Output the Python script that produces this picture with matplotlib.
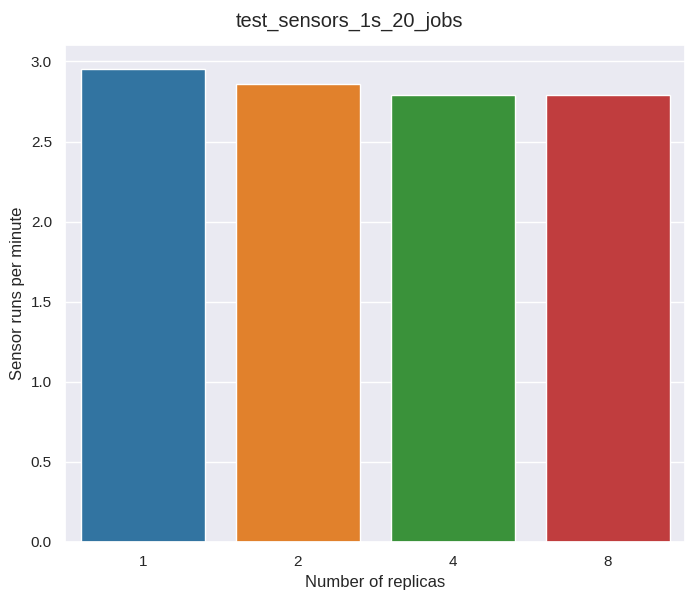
import matplotlib
matplotlib.use("Agg")
import matplotlib.pyplot as plt
import seaborn as sns
import pandas as pd

replicas = ["1", "2", "4", "8"]
runs_per_minute = [2.955, 2.86, 2.79, 2.79]

sns.set_theme(style="darkgrid")
plt.rcParams['font.family'] = ['Liberation Sans', 'DejaVu Sans']

df = pd.DataFrame({"replicas": replicas, "rpm": runs_per_minute})
fig, ax = plt.subplots(figsize=(7, 6), dpi=100)
sns.barplot(data=df, x="replicas", y="rpm", hue="replicas", palette="tab10", legend=False, ax=ax)
ax.set_xlabel("Number of replicas")
ax.set_ylabel("Sensor runs per minute")
fig.suptitle("test_sensors_1s_20_jobs")
fig.subplots_adjust(left=0.093, right=0.979, top=0.925, bottom=0.097)
fig.savefig("out.png")
